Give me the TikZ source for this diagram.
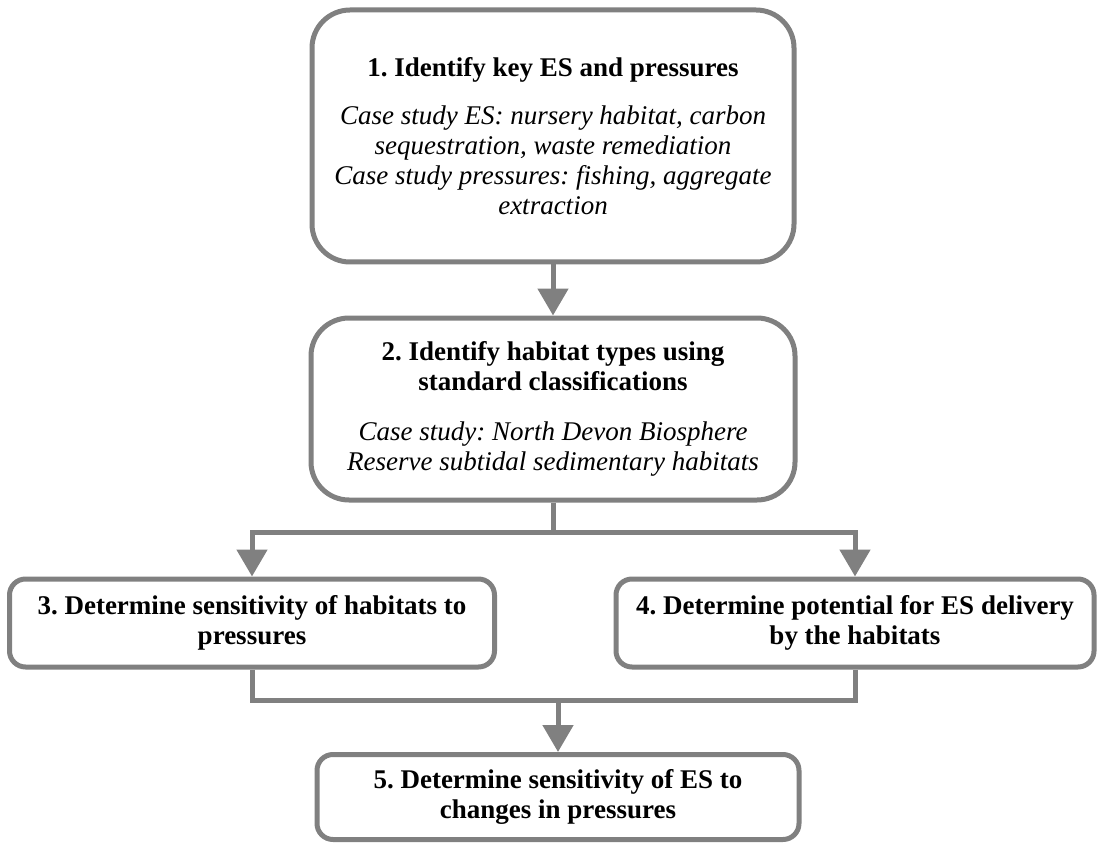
\documentclass[tikz,border=0pt]{standalone}
\usepackage{fontspec}
\setmainfont{Liberation Serif}
\usetikzlibrary{arrows.meta}
\definecolor{boxgray}{RGB}{128,128,128}
\begin{document}
\frenchspacing
\begin{tikzpicture}[x=0.5pt,y=-0.5pt,
  box/.style={draw=boxgray, line width=2.5pt, fill=white, inner sep=0pt, align=center,
              font=\fontsize{13.5}{15}\selectfont},
  bigbox/.style={box, rounded corners=19pt},
  smallbox/.style={box, rounded corners=8pt},
  conn/.style={draw=boxgray, line width=2.5pt},
  arr/.style={conn, -{Triangle[width=15pt,length=13.5pt]}}]
\useasboundingbox (0,0) rectangle (1097,845);

\node[bigbox, minimum width=241pt, minimum height=126pt] (b1) at (553,136)
  {\textbf{1. Identify key ES and pressures}\\[9pt]
   \textit{Case study ES: nursery habitat, carbon}\\
   \textit{sequestration, waste remediation}\\
   \textit{Case study pressures: fishing, aggregate}\\
   \textit{extraction}};

\node[bigbox, minimum width=242pt, minimum height=91pt] (b2) at (553,409)
  {\textbf{2. Identify habitat types using}\\
   \textbf{standard classifications}\\[10pt]
   \textit{Case study: North Devon Biosphere}\\
   \textit{Reserve subtidal sedimentary habitats}};

\node[smallbox, minimum width=242.5pt, minimum height=44pt] (b3) at (252,623)
  {\textbf{3. Determine sensitivity of habitats to}\\
   \textbf{pressures}};

\node[smallbox, minimum width=239pt, minimum height=44pt] (b4) at (855,623)
  {\textbf{4. Determine potential for ES delivery}\\
   \textbf{by the habitats}};

\node[smallbox, minimum width=241pt, minimum height=42.5pt] (b5) at (558,797)
  {\textbf{5. Determine sensitivity of ES to}\\
   \textbf{changes in pressures}};

\coordinate (j1) at (553,532);
\coordinate (j2) at (558,700);

\draw[arr] (b1.south) -- (b2.north);
\draw[conn] (b2.south) -- (j1);
\draw[arr] (j1) -| (b3.north);
\draw[arr] (j1) -| (b4.north);
\draw[conn] (b3.south) |- (j2);
\draw[conn] (b4.south) |- (j2);
\draw[arr] (j2) -- (j2 |- b5.north);
\end{tikzpicture}
\end{document}
